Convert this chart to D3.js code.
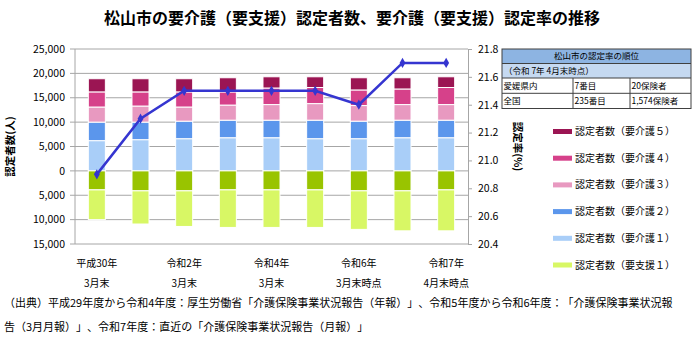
<!DOCTYPE html>
<html lang="ja">
<head>
<meta charset="UTF-8">
<script src="https://d3js.org/d3.v7.min.js"></script>
<style>
  body { margin: 0; background: #fff; }
  svg { text-spacing-trim: space-all; }
  text { font-family: "Noto Sans CJK JP", sans-serif; fill: #000; text-spacing-trim: space-all; }
</style>
</head>
<body>
<div id="chart"></div>
<script>
// 年度ごとのカテゴリ
const periods = ["H30.3", "H31.3", "R2.3", "R3.3", "R4.3", "R5.3", "R6.3", "R7.3", "R7.4"];
const periodLabels = [["平成30年", "3月末"], null, ["令和2年", "3月末"], null, ["令和4年", "3月末"], null,
                      ["令和6年", "3月末時点"], null, ["令和7年", "4月末時点"]];

// 認定者数（人）
const kaigo1 = [6200, 6400, 6600, 6800, 6800, 6600, 6600, 6800, 6800];
const kaigo2 = [3800, 3600, 3600, 3600, 3600, 3800, 3600, 3600, 3600];
const kaigo3 = [3100, 3300, 2900, 3100, 3200, 3400, 3200, 3200, 3200];
const kaigo4 = [3100, 2900, 3100, 2700, 3400, 3300, 3200, 3200, 3500];
const kaigo5 = [2700, 2700, 2700, 2900, 2300, 2200, 2500, 2300, 2200];
const shien2 = [3900, 4100, 4100, 3900, 3900, 3900, 4100, 4100, 3900];
const shien1 = [6100, 6800, 7300, 7700, 7700, 7700, 7900, 8200, 8400];

// 認定率（%）
const rate = [20.9, 21.3, 21.5, 21.5, 21.5, 21.5, 21.4, 21.7, 21.7];

const leftTicks = [25000, 20000, 15000, 10000, 5000, 0, -5000, -10000, -15000];
const rightTicks = [21.8, 21.6, 21.4, 21.2, 21.0, 20.8, 20.6, 20.4];

const upSeries = [
  {name: "認定者数（要介護１）", values: kaigo1, color: "#a9cef8"},
  {name: "認定者数（要介護２）", values: kaigo2, color: "#5b96ec"},
  {name: "認定者数（要介護３）", values: kaigo3, color: "#e899c0"},
  {name: "認定者数（要介護４）", values: kaigo4, color: "#d6418a"},
  {name: "認定者数（要介護５）", values: kaigo5, color: "#9b1553"}
];
const downSeries = [
  {name: "認定者数（要支援２）", values: shien2, color: "#99c400"},
  {name: "認定者数（要支援１）", values: shien1, color: "#d8f765"}
];
const legendItems = [upSeries[4], upSeries[3], upSeries[2], upSeries[1], upSeries[0], downSeries[1]];

const tableRows = [
  ["愛媛県内", "7番目", "20保険者"],
  ["全国", "235番目", "1,574保険者"]
];

const width = 700, height = 354;
const plotLeft = 75, plotRight = 468, plotTop = 49, plotBottom = 244;

const svg = d3.select("#chart").append("svg")
  .attr("width", width).attr("height", height);

const x = d3.scaleBand().domain(periods).range([plotLeft, plotRight]).paddingInner(0.61).paddingOuter(0.305);
const y = d3.scaleLinear().domain([-15000, 25000]).range([plotBottom, plotTop]);
const y2 = d3.scaleLinear().domain([20.4, 21.8]).range([plotBottom, plotTop]);

// title
svg.append("text")
  .attr("x", 352).attr("y", 24)
  .attr("text-anchor", "middle")
  .attr("font-size", 16).attr("font-weight", "bold")
  .text("松山市の要介護（要支援）認定者数、要介護（要支援）認定率の推移");

// grid
svg.append("g").selectAll("line").data(leftTicks).join("line")
  .attr("x1", plotLeft - 5).attr("x2", plotRight)
  .attr("y1", d => y(d)).attr("y2", d => y(d))
  .attr("stroke", "#a6a6a6").attr("stroke-width", 1);

svg.append("line").attr("x1", plotLeft).attr("x2", plotLeft).attr("y1", plotTop).attr("y2", plotBottom)
  .attr("stroke", "#a6a6a6");

// left axis labels
svg.append("g").selectAll("text").data(leftTicks).join("text")
  .attr("x", plotLeft - 10).attr("y", d => y(d))
  .attr("dy", "0.35em").attr("text-anchor", "end")
  .attr("font-size", 10.5)
  .text(d => d3.format(",")(Math.abs(d)));

// right axis
const rAxis = svg.append("g").attr("transform", `translate(${plotRight},0)`)
  .call(d3.axisRight(y2).tickValues(rightTicks).tickSize(4).tickPadding(6).tickFormat(d3.format(".1f")));
rAxis.select(".domain").attr("stroke", "#a6a6a6");
rAxis.selectAll(".tick line").attr("stroke", "#a6a6a6");
rAxis.selectAll("text").attr("font-size", 10.5).attr("font-family", "Noto Sans CJK JP");

// axis titles
svg.append("text")
  .attr("transform", `translate(14,${(plotTop + plotBottom) / 2}) rotate(-90)`)
  .attr("text-anchor", "middle").attr("font-size", 10.5).attr("font-weight", "bold")
  .text("認定者数(人)");
svg.append("text")
  .attr("transform", `translate(514,${(plotTop + plotBottom) / 2}) rotate(90)`)
  .attr("text-anchor", "middle").attr("font-size", 10.5).attr("font-weight", "bold")
  .text("認定率(%)");

// stacked bars
const bars = svg.append("g");
periods.forEach((p, i) => {
  let cum = 0;
  upSeries.forEach(s => {
    const v = s.values[i];
    bars.append("rect")
      .attr("x", x(p)).attr("width", x.bandwidth())
      .attr("y", y(cum + v)).attr("height", y(cum) - y(cum + v))
      .attr("fill", s.color).attr("stroke", "#fff").attr("stroke-width", 1);
    cum += v;
  });
  cum = 0;
  downSeries.forEach(s => {
    const v = s.values[i];
    bars.append("rect")
      .attr("x", x(p)).attr("width", x.bandwidth())
      .attr("y", y(cum)).attr("height", y(cum - v) - y(cum))
      .attr("fill", s.color).attr("stroke", "#fff").attr("stroke-width", 1);
    cum -= v;
  });
});

// rate line
const cx = p => x(p) + x.bandwidth() / 2;
svg.append("path")
  .datum(rate)
  .attr("fill", "none").attr("stroke", "#3535d0").attr("stroke-width", 2.5)
  .attr("d", d3.line().x((d, i) => cx(periods[i])).y(d => y2(d)));
svg.append("g").selectAll("path").data(rate).join("path")
  .attr("d", d3.symbol(d3.symbolDiamond, 30))
  .attr("transform", (d, i) => `translate(${cx(periods[i])},${y2(d)})`)
  .attr("fill", "#3535d0");

// x labels
periods.forEach((p, i) => {
  const lab = periodLabels[i];
  if (!lab) return;
  svg.append("text").attr("x", cx(p)).attr("y", 267).attr("text-anchor", "middle")
    .attr("font-size", 10).text(lab[0]);
  svg.append("text").attr("x", cx(p)).attr("y", 287).attr("text-anchor", "middle")
    .attr("font-size", 10).text(lab[1]);
});

// legend
const legend = svg.append("g");
legendItems.forEach((s, i) => {
  const ly = 131.5 + i * 26.7;
  legend.append("rect").attr("x", 553).attr("y", ly - 2.5).attr("width", 19).attr("height", 5)
    .attr("fill", s.color);
  legend.append("text").attr("x", 575).attr("y", ly).attr("dy", "0.35em")
    .attr("font-size", 10).text(s.name);
});

// ranking table
const tx = 502, tw = 189, cols = [502, 573, 630, 691];
const tbl = svg.append("g");
tbl.append("rect").attr("x", tx).attr("y", 49).attr("width", tw).attr("height", 14.5).attr("fill", "#8db4e2");
tbl.append("rect").attr("x", tx).attr("y", 63.5).attr("width", tw).attr("height", 14.5).attr("fill", "#c5d9f1");
tbl.append("rect").attr("x", tx).attr("y", 49).attr("width", tw).attr("height", 59.5)
  .attr("fill", "none").attr("stroke", "#404040").attr("stroke-width", 1);
[63.5, 78, 93.3].forEach(ly => tbl.append("line").attr("x1", tx).attr("x2", tx + tw)
  .attr("y1", ly).attr("y2", ly).attr("stroke", "#404040"));
[573, 630].forEach(lx => tbl.append("line").attr("x1", lx).attr("x2", lx)
  .attr("y1", 78).attr("y2", 108.5).attr("stroke", "#404040"));
tbl.append("text").attr("x", tx + tw / 2).attr("y", 56.5).attr("dy", "0.35em")
  .attr("text-anchor", "middle").attr("font-size", 8.5).text("松山市の認定率の順位");
tbl.append("text").attr("x", tx + 2).attr("y", 71).attr("dy", "0.35em")
  .attr("font-size", 8.5).text("（令和 7年 4月末時点）");
tableRows.forEach((r, ri) => {
  r.forEach((c, ci) => {
    tbl.append("text").attr("x", cols[ci] + 1.5).attr("y", 86 + ri * 15).attr("dy", "0.35em")
      .attr("font-size", 8.5).text(c);
  });
});

// source note
svg.append("text").attr("x", 4).attr("y", 307).attr("font-size", 11)
  .text("（出典）平成29年度から令和4年度：厚生労働省「介護保険事業状況報告（年報）」、令和5年度から令和6年度：「介護保険事業状況報");
svg.append("text").attr("x", 4).attr("y", 331).attr("font-size", 11)
  .text("告（3月月報）」、令和7年度：直近の「介護保険事業状況報告（月報）」");
</script>
</body>
</html>
